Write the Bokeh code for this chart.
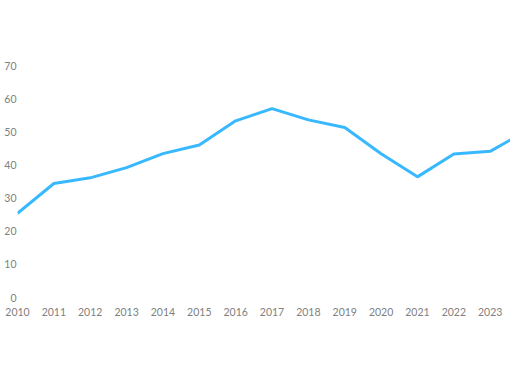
from bokeh.plotting import figure
from bokeh.models import Range1d, FixedTicker
from bokeh.embed import file_html
from bokeh.resources import INLINE

years = [2010, 2011, 2012, 2013, 2014, 2015, 2016, 2017, 2018, 2019, 2020, 2021, 2022, 2023, 2024]
values = [25.4, 34.4, 36.1, 39.2, 43.4, 46.0, 53.3, 57.0, 53.6, 51.3, 43.4, 36.4, 43.3, 44.1, 50.3]
year_ticks = list(range(2010, 2024))
value_ticks = [0, 10, 20, 30, 40, 50, 60, 70]

W, H = 510, 382
px_per_year = 36.36

p = figure(width=W, height=H, output_backend="svg", toolbar_location=None,
           x_range=Range1d(2010, 2010 + (W - 17) / px_per_year),
           y_range=Range1d(0, 70),
           min_border_left=17, min_border_right=0, min_border_top=65, min_border_bottom=85)
p.outline_line_color = None
p.background_fill_color = "white"
p.border_fill_color = "white"
p.grid.visible = False

for ax in (p.xaxis, p.yaxis):
    ax.axis_line_color = None
    ax.major_tick_line_color = None
    ax.minor_tick_line_color = None
    ax.major_tick_out = 0
    ax.major_tick_in = 0
    ax.major_label_text_font = "Lato"
    ax.major_label_text_font_size = "10.5px"
    ax.major_label_text_color = "#808080"

p.xaxis.ticker = FixedTicker(ticks=year_ticks)
p.xaxis.major_label_standoff = 10
p.yaxis.ticker = FixedTicker(ticks=value_ticks)
p.yaxis.major_label_standoff = 1

p.line(years, values, line_color="#38B8FF", line_width=3)

open("out.html", "w").write(file_html(p, INLINE))
